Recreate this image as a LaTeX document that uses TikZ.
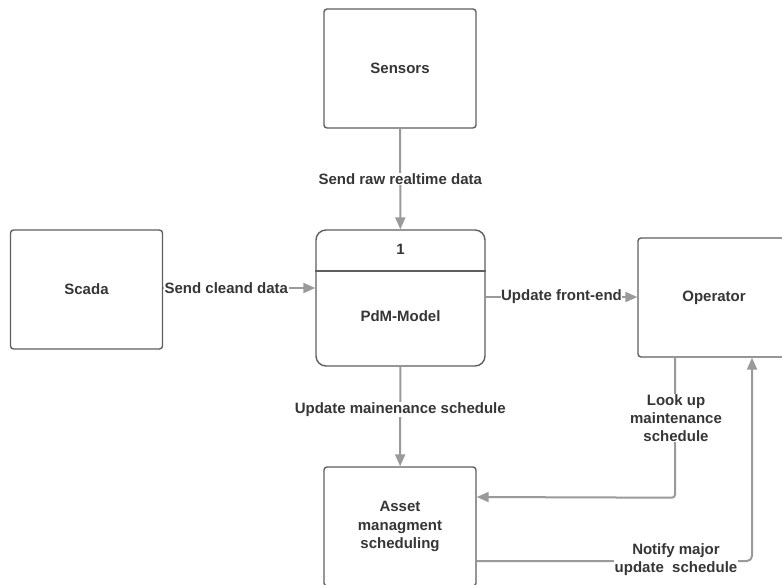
\documentclass[tikz,border=0pt]{standalone}
\usepackage{fontspec}
\setmainfont{Liberation Sans}
\usetikzlibrary{arrows.meta}
\definecolor{edge}{HTML}{5F5F5F}
\definecolor{flowc}{HTML}{9A9A9A}
\definecolor{txt}{HTML}{363636}
\tikzset{
  labelfont/.style={font=\bfseries\fontsize{15}{18.5}\selectfont},
  entity/.style={draw=edge, line width=1.4pt, rounded corners=3pt, fill=white,
    minimum width=152pt, minimum height=119pt, align=center,
    labelfont, text=txt, inner sep=0pt},
  flow/.style={draw=flowc, line width=2pt, -{Triangle[length=12pt,width=10pt]}},
  flowlabel/.style={fill=white, text=txt, labelfont, inner sep=0.5pt, align=center},
}
\begin{document}
\begin{tikzpicture}[x=1pt,y=-1pt]
\useasboundingbox (0,0) rectangle (782,584);
\clip (0,0) rectangle (782,584);
% external entities
\node[entity] (sensors) at (400,68.5) {Sensors};
\node[entity] (scada) at (86.5,289.5) {Scada};
\node[entity] (op) at (714,297.5) {Operator};
\node[entity] (asset) at (400,526.5) {Asset\\managment\\scheduling};
% process 1
\node[draw=edge, line width=1.4pt, rounded corners=10pt, fill=white,
      minimum width=169pt, minimum height=136pt, inner sep=0pt] (pdm) at (400.5,298) {};
\draw[edge, line width=1.4pt] (pdm.west |- 0,271) -- (pdm.east |- 0,271);
\node[text=txt, labelfont] (num) at (400.5,249) {1};
\node[text=txt, labelfont] (pdmname) at (400.5,316) {PdM-Model};
% data flows
\draw[flow] (sensors) -- node[flowlabel] {Send raw realtime data} (pdm);
\draw[flow] (scada.east |- 0,288) -- node[flowlabel, pos=0.415] {Send cleand data} (pdm.west |- 0,288);
\draw[flow] (pdm.east |- 0,297) -- node[flowlabel] {Update front-end} (op.west |- 0,297);
\draw[flow] (pdm) -- node[flowlabel, pos=0.43] {Update mainenance schedule} (asset);
\draw[flow, rounded corners=3pt] ([xshift=-39pt]op.south) -- ++(0,140) -- ([yshift=29.5pt]asset.east);
\node[flowlabel, font=\bfseries\fontsize{15}{18}\selectfont] (lookup) at (676,418) {Look up\\maintenance\\schedule};
\draw[flow, rounded corners=5pt] ([yshift=-34.5pt]asset.east) -| ([xshift=38pt]op.south);
\node[flowlabel, font=\bfseries\fontsize{15}{18}\selectfont] (notify) at (676,560) {Notify major\\update\ \ schedule};
\end{tikzpicture}
\end{document}
